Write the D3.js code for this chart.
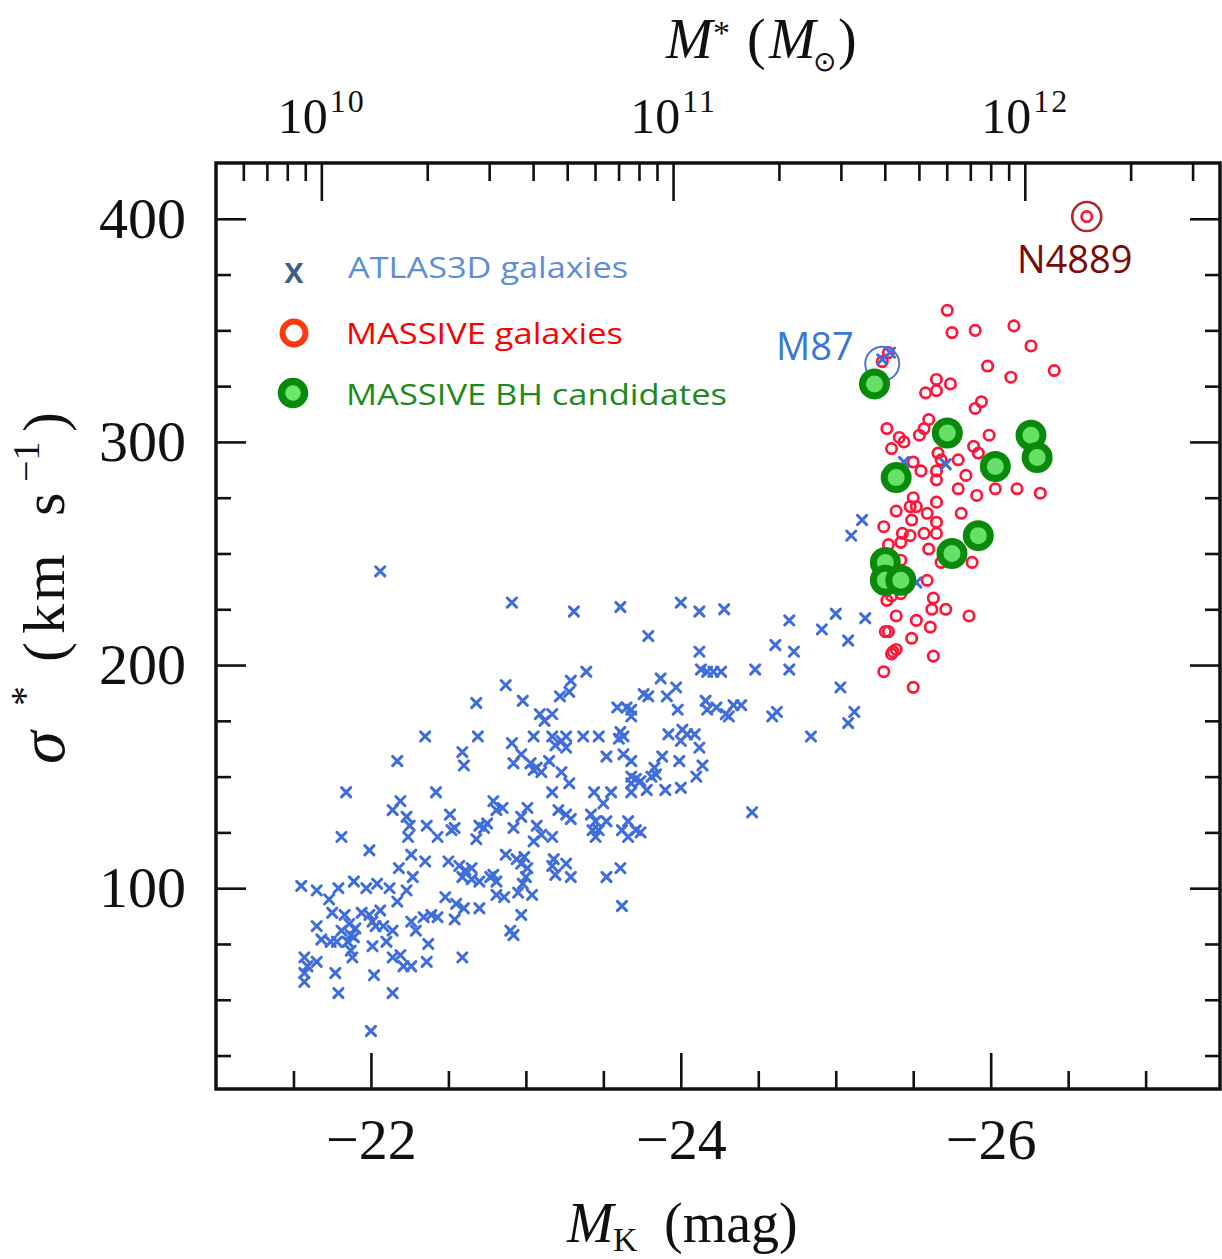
<!DOCTYPE html>
<html>
<head>
<meta charset="utf-8">
<script src="https://cdn.jsdelivr.net/npm/d3@7"></script>
<style>
  body { margin: 0; background: #ffffff; }
  svg { display: block; }
</style>
</head>
<body>
<svg id="chart" width="1222" height="1259"></svg>
<script>
// ---- data: [M_K (mag), sigma* (km/s)] ----
const atlas3d = [
  [-22.06,242],[-22.91,228],[-23.31,224],[-22.87,191],[-22.68,183],[-22.98,184],[-23.09,178],[-23.17,178],
  [-23.12,175],[-23.22,186],[-23.29,193],[-23.28,188],[-22.35,168],[-22.69,168],[-22.59,161],[-22.60,155],
  [-22.17,157],[-22.91,165],[-23.05,168],[-23.17,168],[-23.23,166],[-23.26,168],[-23.19,164],[-23.26,163],
  [-22.97,160],[-22.92,156],[-23.03,156],[-23.07,154],[-23.05,153],[-23.15,157],[-23.10,152],[-23.23,152],
  [-23.28,147],[-23.17,143],[-21.84,143],[-22.42,143],[-22.19,139],[-22.14,135],[-22.23,132],[-22.25,128],
  [-22.24,123],[-21.81,123],[-21.99,117],[-22.36,128],[-22.43,123],[-22.51,133],[-22.54,127],[-22.52,126],
  [-22.68,122],[-22.70,128],[-22.73,127],[-22.75,129],[-22.79,139],[-22.85,136],[-22.81,135],[-22.92,127],
  [-22.97,132],[-23.01,136],[-23.07,128],[-23.10,124],[-23.05,121],[-23.17,123],[-23.21,135],[-23.26,133],
  [-23.29,131],[-22.26,115],[-22.35,112],[-22.18,109],[-22.27,105],[-22.50,112],[-22.57,110],[-22.61,108],
  [-22.65,109],[-22.59,105],[-22.65,104],[-22.70,103],[-22.77,105],[-22.81,103],[-22.79,106],[-22.87,115],
  [-22.94,113],[-22.99,114],[-22.97,111],[-23.01,109],[-23.00,105],[-22.98,102],[-23.04,97],[-22.95,98],
  [-23.18,113],[-23.17,110],[-23.19,106],[-23.26,111],[-23.29,105],[-21.55,101],[-21.65,99],[-21.73,95],
  [-21.79,100],[-21.89,103],[-21.97,100],[-22.04,102],[-22.12,100],[-22.23,99],[-22.17,94],[-22.48,96],
  [-22.55,93],[-22.54,86],[-22.60,91],[-22.70,91],[-22.81,97],[-22.86,96],[-21.75,89],[-21.83,88],
  [-21.86,84],[-21.81,81],[-21.87,79],[-21.90,82],[-21.94,89],[-21.99,88],[-22.01,85],[-22.06,90],
  [-22.03,83],[-21.65,83],[-21.68,77],[-21.74,76],[-21.78,76],[-21.85,76],[-21.89,78],[-22.08,83],
  [-22.14,81],[-22.10,76],[-22.01,74],[-22.26,85],[-22.29,81],[-22.34,87],[-22.39,88],[-22.43,87],
  [-22.37,75],[-21.87,72],[-21.88,69],[-22.14,69],[-22.19,70],[-22.21,65],[-22.26,65],[-22.36,67],
  [-22.59,69],[-22.97,88],[-22.90,81],[-22.92,79],[-21.57,69],[-21.59,65],[-21.57,62],[-21.57,58],
  [-21.65,67],[-21.77,62],[-22.02,61],[-21.79,53],[-22.14,53],[-22.00,36],
  [-23.61,226],[-23.79,213],[-24.00,228],[-24.12,224],[-24.28,225],[-24.12,206],[-24.13,198],[-24.17,197],
  [-24.21,197],[-24.26,197],[-24.48,198],[-24.61,209],[-24.73,206],[-24.70,220],[-24.70,198],[-24.91,216],
  [-25.00,223],[-25.08,211],[-25.19,221],[-25.03,190],[-25.12,179],[-25.08,174],[-24.84,168],[-24.59,177],
  [-24.62,179],[-23.39,197],[-23.87,194],[-23.76,187],[-23.79,186],[-23.97,190],[-23.91,186],[-23.98,180],
  [-23.59,181],[-23.65,181],[-23.68,177],[-23.68,180],[-24.16,184],[-24.17,180],[-24.23,181],[-24.29,178],
  [-24.31,177],[-24.34,182],[-24.39,182],[-23.37,168],[-23.47,168],[-23.61,170],[-23.63,168],[-23.60,167],
  [-23.92,169],[-24.01,171],[-24.00,166],[-24.04,169],[-24.09,169],[-24.12,163],[-23.52,159],[-23.63,160],
  [-23.68,157],[-23.88,159],[-23.99,157],[-24.14,155],[-24.10,150],[-23.83,154],[-23.84,151],[-23.81,150],
  [-23.68,150],[-23.71,149],[-23.68,147],[-23.74,148],[-23.44,143],[-23.55,143],[-23.68,143],[-23.78,144],
  [-23.90,144],[-24.00,145],[-23.50,138],[-23.42,133],[-23.45,130],[-23.43,126],[-23.47,126],[-23.45,123],
  [-23.52,130],[-23.62,126],[-23.66,130],[-23.66,123],[-23.71,126],[-23.74,125],[-24.46,134],[-23.52,105],
  [-23.61,109],[-23.62,92],
  [-25.30,337],[-25.35,340],[-25.44,291],[-25.71,290],[-25.52,237],[-25.17,265],[-25.10,258]
];

const massive = [
  [-25.72,359],[-25.75,349],[-25.90,350],[-26.15,352],[-26.26,343],[-25.98,334],[-26.13,329],[-26.41,332],
  [-25.34,340],[-25.30,336],[-25.65,328],[-25.74,326],[-25.65,323],[-25.58,322],[-25.94,318],[-25.90,315],
  [-25.60,310],[-25.57,306],[-25.54,303],[-25.33,306],[-25.41,302],[-25.44,300],[-25.36,297],[-25.99,303],
  [-25.89,298],[-25.92,295],[-25.66,295],[-25.68,292],[-25.79,292],[-25.50,291],[-25.55,287],[-25.65,287],
  [-25.65,283],[-25.84,285],[-25.79,279],[-25.91,276],[-26.03,279],[-26.17,279],[-26.32,277],[-25.50,275],
  [-25.52,271],[-25.48,271],[-25.49,265],[-25.39,269],[-25.65,273],[-25.59,268],[-25.65,264],[-25.65,259],
  [-25.81,268],[-25.31,262],[-25.43,259],[-25.42,255],[-25.48,258],[-25.57,259],[-25.60,252],[-25.88,246],
  [-25.68,246],[-25.34,254],[-25.42,247],[-25.59,238],[-25.33,229],[-25.36,231],[-25.42,232],[-25.63,230],
  [-25.62,225],[-25.71,225],[-25.86,222],[-25.39,222],[-25.52,220],[-25.61,217],[-25.32,215],[-25.34,215],
  [-25.49,212],[-25.37,206],[-25.39,207],[-25.36,205],[-25.63,204],[-25.31,197],[-25.50,190]
];

const bhCandidates = [
  [-25.25,326],[-25.72,304],[-26.26,303],[-26.30,293],[-26.03,289],[-25.39,284],
  [-25.92,258],[-25.75,250],[-25.32,246],[-25.32,238],[-25.42,238]
];

// named galaxies
const n4889 = { name: "N4889", mk: -26.62, sigma: 401 };
const m87 = { name: "M87", mk: -25.30, sigma: 335 };

// axis ticks
const mkMajor = [-22, -24, -26];
const mkMinor = [-21.5, -22.5, -23, -23.5, -24.5, -25, -25.5, -26.5, -27];
const sigmaMajor = [100, 200, 300, 400];
const sigmaMinor = [25, 50, 75, 125, 150, 175, 225, 250, 275, 325, 350, 375];
const massMajor = [1e10, 1e11, 1e12];
const massMinor = [6e9, 7e9, 8e9, 9e9,
  2e10, 3e10, 4e10, 5e10, 6e10, 7e10, 8e10, 9e10,
  2e11, 3e11, 4e11, 5e11, 6e11, 7e11, 8e11, 9e11,
  2e12, 3e12];

const legendLabels = ["ATLAS3D galaxies", "MASSIVE galaxies", "MASSIVE BH candidates"];

// ---- layout ----
const frame = { left: 216, right: 1220, top: 163, bottom: 1089 };
const x = d3.scaleLinear().domain([-21, -27.48]).range([frame.left, frame.right]);
const y = d3.scaleLinear().domain([10, 425]).range([frame.bottom, frame.top]);

// stellar mass axis: 10^10 Msun at M_K = -21.68, 2.27 mag per dex
const MK_AT_1E10 = -21.68, MAG_PER_DEX = 2.27;
const xMass = d3.scaleLog()
  .domain([1e10, 1e12])
  .range([x(MK_AT_1E10), x(MK_AT_1E10 - 2 * MAG_PER_DEX)]);

const svg = d3.select("#chart");
const SERIF = "'Liberation Serif', 'Times New Roman', serif";
const SANS = "'Open Sans', 'Noto Sans', sans-serif";

function styleAxis(g, size) {
  g.attr("font-family", SERIF).attr("font-size", size);
  g.select(".domain").remove();
  g.selectAll(".tick line").attr("stroke", "#111").attr("stroke-width", 2.6);
  g.selectAll(".tick text").attr("fill", "#111");
}

// bottom axis (M_K)
svg.append("g").attr("transform", `translate(0,${frame.bottom})`)
  .call(d3.axisBottom(x).tickValues(mkMajor).tickSize(-36).tickPadding(29).tickFormat(d3.format("d")))
  .call(g => styleAxis(g, 58));
svg.append("g").attr("transform", `translate(0,${frame.bottom})`)
  .call(d3.axisBottom(x).tickValues(mkMinor).tickSize(-18).tickFormat(""))
  .call(g => styleAxis(g, 10));

// left axis (sigma)
svg.append("g").attr("transform", `translate(${frame.left},0)`)
  .call(d3.axisLeft(y).tickValues(sigmaMajor).tickSize(-30).tickPadding(30).tickFormat(d3.format("d")))
  .call(g => styleAxis(g, 58));
svg.append("g").attr("transform", `translate(${frame.left},0)`)
  .call(d3.axisLeft(y).tickValues(sigmaMinor).tickSize(-15).tickFormat(""))
  .call(g => styleAxis(g, 10));

// right axis (sigma, ticks only)
svg.append("g").attr("transform", `translate(${frame.right},0)`)
  .call(d3.axisRight(y).tickValues(sigmaMajor).tickSize(-30).tickFormat(""))
  .call(g => styleAxis(g, 10));
svg.append("g").attr("transform", `translate(${frame.right},0)`)
  .call(d3.axisRight(y).tickValues(sigmaMinor).tickSize(-15).tickFormat(""))
  .call(g => styleAxis(g, 10));

// top axis (stellar mass)
const topAxis = svg.append("g").attr("transform", `translate(0,${frame.top})`)
  .call(d3.axisTop(xMass).tickValues(massMajor).tickSize(-38).tickPadding(30))
  .call(g => styleAxis(g, 50));
topAxis.selectAll(".tick text").each(function (d) {
  const t = d3.select(this).text(null);
  t.append("tspan").text("10");
  t.append("tspan").attr("dy", -21).attr("dx", 2).attr("font-size", 32)
    .attr("letter-spacing", 2).text(Math.round(Math.log10(d)));
});
svg.append("g").attr("transform", `translate(0,${frame.top})`)
  .call(d3.axisTop(xMass).tickValues(massMinor).tickSize(-18).tickFormat(""))
  .call(g => styleAxis(g, 10));

// plot frame
svg.append("rect")
  .attr("x", frame.left).attr("y", frame.top)
  .attr("width", frame.right - frame.left).attr("height", frame.bottom - frame.top)
  .attr("fill", "none").attr("stroke", "#111").attr("stroke-width", 3.5);

// ---- axis titles ----
const xt = svg.append("text").attr("font-family", SERIF).attr("fill", "#111");
xt.append("tspan").attr("x", 567).attr("y", 1242).attr("font-size", 56).attr("font-style", "italic").text("M");
xt.append("tspan").attr("x", 613).attr("y", 1251).attr("font-size", 34).text("K");
xt.append("tspan").attr("x", 664).attr("y", 1242).attr("font-size", 56).text("(mag)");

const tt = svg.append("text").attr("font-family", SERIF).attr("fill", "#111");
tt.append("tspan").attr("x", 666).attr("y", 58).attr("font-size", 56).attr("font-style", "italic").text("M");
tt.append("tspan").attr("x", 713).attr("y", 44).attr("font-size", 34).text("*");
tt.append("tspan").attr("x", 747).attr("y", 58).attr("font-size", 56).text("(");
tt.append("tspan").attr("x", 769).attr("y", 58).attr("font-size", 56).attr("font-style", "italic").text("M");
tt.append("tspan").attr("x", 813).attr("y", 71).attr("font-size", 28).text("\u2299");
tt.append("tspan").attr("x", 838).attr("y", 58).attr("font-size", 56).text(")");

const yt = svg.append("text").attr("font-family", SERIF).attr("fill", "#111")
  .attr("transform", "translate(64,0) rotate(-90)");
yt.append("tspan").attr("x", -764).attr("y", 0).attr("font-size", 66).attr("font-style", "italic").text("\u03c3");
yt.append("tspan").attr("x", -706).attr("y", -26).attr("font-size", 40).text("*");
yt.append("tspan").attr("x", -662).attr("y", 0).attr("font-size", 60).text("(");
yt.append("tspan").attr("x", -634).attr("y", 0).attr("font-size", 60).attr("letter-spacing", 3).text("km");
yt.append("tspan").attr("x", -516).attr("y", 0).attr("font-size", 60).text("s");
yt.append("tspan").attr("x", -482).attr("y", -25).attr("font-size", 38).text("\u22121");
yt.append("tspan").attr("x", -432).attr("y", 0).attr("font-size", 60).text(")");

// ---- markers ----
const xPath = "M-4.6,-4.6L4.6,4.6M-4.6,4.6L4.6,-4.6";
const RED = "#ff1638", BLUE = "#3f6edb";

svg.append("g").selectAll("circle").data(massive).join("circle")
  .attr("cx", d => x(d[0])).attr("cy", d => y(d[1])).attr("r", 5.2)
  .attr("fill", "none").attr("stroke", RED).attr("stroke-width", 2.7);

svg.append("g").selectAll("path").data(atlas3d).join("path")
  .attr("transform", d => `translate(${x(d[0])},${y(d[1])})`)
  .attr("d", xPath).attr("fill", "none").attr("stroke", BLUE)
  .attr("stroke-width", 3).attr("stroke-linecap", "round");

// M87 highlight ring
svg.append("circle")
  .attr("cx", x(m87.mk)).attr("cy", y(m87.sigma)).attr("r", 17)
  .attr("fill", "none").attr("stroke", "#4a78d8").attr("stroke-width", 2);

// N4889 double ring
svg.append("circle")
  .attr("cx", x(n4889.mk)).attr("cy", y(n4889.sigma)).attr("r", 14.5)
  .attr("fill", "none").attr("stroke", "#b02a2a").attr("stroke-width", 2.6);
svg.append("circle")
  .attr("cx", x(n4889.mk)).attr("cy", y(n4889.sigma)).attr("r", 5.2)
  .attr("fill", "none").attr("stroke", RED).attr("stroke-width", 2.7);

svg.append("g").selectAll("circle").data(bhCandidates).join("circle")
  .attr("cx", d => x(d[0])).attr("cy", d => y(d[1])).attr("r", 12)
  .attr("fill", "#66e066").attr("stroke", "#0a8a0a").attr("stroke-width", 7);

// ---- annotations ----
svg.append("text").attr("x", 776).attr("y", 360)
  .attr("font-family", SANS).attr("font-size", 38).attr("fill", "#3a78d4").text(m87.name);
svg.append("text").attr("x", 1017).attr("y", 273)
  .attr("font-family", SANS).attr("font-size", 38).attr("fill", "#7d0a0a").text(n4889.name);

// ---- legend ----
const legend = svg.append("g").attr("font-family", SANS);
legend.append("text").attr("x", 294).attr("y", 283).attr("text-anchor", "middle")
  .attr("font-size", 36).attr("font-weight", 600).attr("fill", "#3e5c8e").text("x");
legend.append("circle").attr("cx", 294).attr("cy", 333).attr("r", 11.5)
  .attr("fill", "#fff").attr("stroke", "#ff3a10").attr("stroke-width", 6);
legend.append("circle").attr("cx", 293).attr("cy", 393).attr("r", 11.5)
  .attr("fill", "#6ee66e").attr("stroke", "#0a8a0a").attr("stroke-width", 7.5);

const legendStyle = [
  { x: 348, y: 278, color: "#5b8fd9", len: 280 },
  { x: 346, y: 344, color: "#ff0000", len: 277 },
  { x: 346, y: 405, color: "#1d8a1d", len: 381 }
];
legendLabels.forEach((label, i) => {
  const s = legendStyle[i];
  legend.append("text").attr("x", s.x).attr("y", s.y)
    .attr("font-size", 29).attr("fill", s.color)
    .attr("textLength", s.len).attr("lengthAdjust", "spacingAndGlyphs")
    .text(label);
});
</script>
</body>
</html>
